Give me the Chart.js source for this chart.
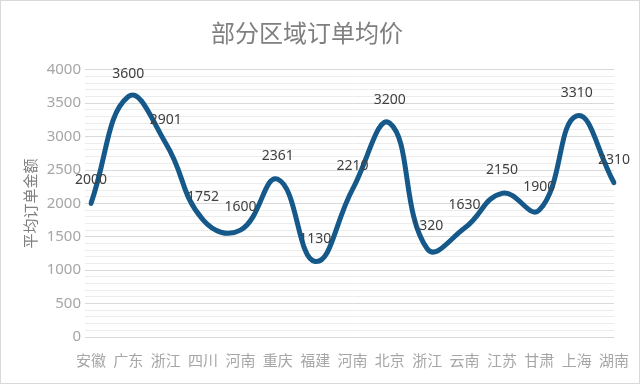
<!DOCTYPE html>
<html>
<head>
<meta charset="utf-8">
<script src="https://cdn.jsdelivr.net/npm/chart.js@4"></script>
<style>
html,body{margin:0;padding:0;background:#fff;}
#wrap{width:640px;height:384px;position:relative;}
canvas{display:block;}
</style>
</head>
<body>
<div id="wrap"><canvas id="c" width="640" height="384"></canvas></div>
<script>
const categories = ['安徽','广东','浙江','四川','河南','重庆','福建','河南','北京','浙江','云南','江苏','甘肃','上海','湖南'];
const orderAvg = [2000,3600,2901,1752,1600,2361,1130,2210,3200,1320,1630,2150,1900,3310,2310];
const yMin = 0, yMax = 4000, yStep = 100, yLabelStep = 500;
const chartTitle = '部分区域订单均价';
const yTitle = '平均订单金额';

const cjk = '"Noto Sans CJK SC", "Noto Sans", sans-serif';
const latin = '"Noto Sans", "Open Sans", sans-serif';

const bgBorder = {
  id: 'bgBorder',
  beforeDraw(chart) {
    const ctx = chart.ctx;
    ctx.save();
    ctx.fillStyle = '#ffffff';
    ctx.fillRect(0, 0, chart.width, chart.height);
    ctx.strokeStyle = '#d9d9d9';
    ctx.lineWidth = 1;
    ctx.strokeRect(0.5, 0.5, chart.width - 1, chart.height - 1);
    ctx.restore();
  }
};

const dataLabels = {
  id: 'dataLabels',
  afterDatasetsDraw(chart) {
    const ctx = chart.ctx;
    const meta = chart.getDatasetMeta(0);
    const vals = chart.data.datasets[0].data;
    ctx.save();
    ctx.font = '14px ' + latin;
    ctx.fillStyle = '#404040';
    ctx.textAlign = 'center';
    ctx.textBaseline = 'middle';
    meta.data.forEach((pt, i) => {
      ctx.fillText(String(vals[i]), pt.x, pt.y - 23);
    });
    ctx.restore();
  }
};

new Chart(document.getElementById('c'), {
  type: 'line',
  data: {
    labels: categories,
    datasets: [{
      data: orderAvg,
      borderColor: '#15598a',
      borderWidth: 5,
      tension: 0.45,
      pointRadius: 0,
      fill: false,
      borderCapStyle: 'round',
      borderJoinStyle: 'round'
    }]
  },
  options: {
    responsive: false,
    animation: false,
    layout: { padding: { left: 0, right: 26, top: 0, bottom: 0 } },
    plugins: {
      legend: { display: false },
      tooltip: { enabled: false },
      title: {
        display: true,
        text: chartTitle,
        color: '#7f7f7f',
        font: { family: cjk, size: 24, weight: 'normal' },
        padding: { top: 18, bottom: 23 }
      }
    },
    scales: {
      x: {
        offset: false,
        grid: { display: false },
        border: { display: false },
        ticks: {
          color: '#a6a6a6',
          font: { family: cjk, size: 15 },
          maxRotation: 0,
          autoSkip: false,
          padding: 6
        },
        afterFit(s) { s.height = 47; }
      },
      y: {
        min: yMin,
        max: yMax,
        border: { display: false },
        grid: {
          color: (c) => (c.tick && c.tick.value % yLabelStep === 0) ? '#d9d9d9' : '#ececec',
          lineWidth: 1,
          tickLength: 6,
          drawTicks: true
        },
        ticks: {
          stepSize: yStep,
          autoSkip: false,
          color: '#a6a6a6',
          font: { family: latin, size: 15 },
          padding: 4,
          callback: (v) => (v % yLabelStep === 0 ? String(v) : '')
        },
        title: {
          display: true,
          text: yTitle,
          color: '#7f7f7f',
          font: { family: cjk, size: 15 },
          padding: { top: 21, bottom: 0 }
        },
        afterFit(s) { s.width = 91; }
      }
    }
  },
  plugins: [bgBorder, dataLabels]
});
</script>
</body>
</html>
